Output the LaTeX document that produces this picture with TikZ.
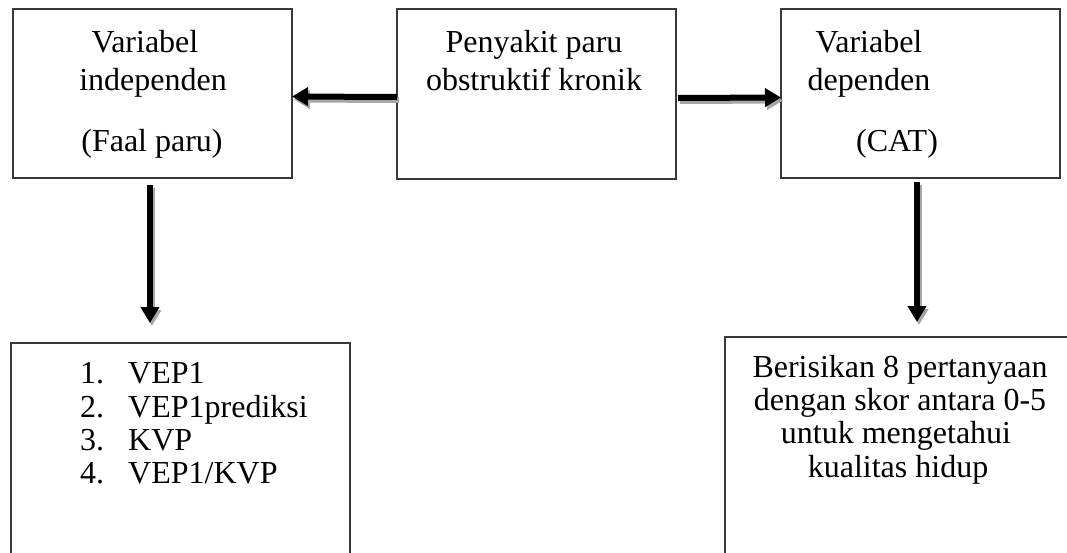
\documentclass[tikz,border=0pt]{standalone}
\usepackage{fontspec}
\setmainfont{Liberation Serif}
\usetikzlibrary{arrows.meta}
\begin{document}
\begin{tikzpicture}[x=1pt,y=-1pt,
  box/.style={draw=black!78, line width=1.4pt, rectangle, inner sep=0pt, outer sep=0pt},
  txt/.style={anchor=base, inner sep=0pt, font=\fontsize{32}{37}\selectfont},
  txtw/.style={anchor=base west, inner sep=0pt, font=\fontsize{32}{37}\selectfont},
  arr/.style={draw=black, line width=6pt, -{Triangle[length=16pt,width=18pt]}},
  shad/.style={draw=black!35, line width=6pt, -{Triangle[length=16pt,width=18pt]}, transform canvas={shift={(2pt,-3pt)}}}
]
\useasboundingbox (0,0) rectangle (1067,552);
\clip (0,0) rectangle (1067,552);
\fill[white] (0,0) rectangle (1067,552);

% boxes
\node[box, minimum width=279pt, minimum height=169pt] (A) at (152.5,93.5) {};
\node[box, minimum width=279pt, minimum height=170pt] (B) at (536.5,94) {};
\node[box, minimum width=279pt, minimum height=169pt] (C) at (920.5,93.5) {};
\node[box, minimum width=339pt, minimum height=257pt] (D) at (180.5,471.5) {};
\node[box, minimum width=365pt, minimum height=263pt] (E) at (907.5,468.5) {};

% texts
\node[txt] (a1) at (145,52) {Variabel};
\node[txt] (a2) at (153,90) {independen};
\node[txt] (a3) at (152,151) {(Faal paru)};
\node[txt] (b1) at (534,52) {Penyakit paru};
\node[txt] (b2) at (534,90) {obstruktif kronik};
\node[txt] (c1) at (869,52) {Variabel};
\node[txt] (c2) at (869,90) {dependen};
\node[txt] (c3) at (897,151) {(CAT)};

\node[txtw] (n1) at (80,383) {1.};
\node[txtw] (n2) at (80,417) {2.};
\node[txtw] (n3) at (80,450) {3.};
\node[txtw] (n4) at (80,483) {4.};
\node[txtw] (i1) at (128,383) {VEP1};
\node[txtw] (i2) at (128,417) {VEP1prediksi};
\node[txtw] (i3) at (128,450) {KVP};
\node[txtw] (i4) at (128,483) {VEP1/KVP};

\node[txt] (e1) at (900,377) {Berisikan 8 pertanyaan};
\node[txt] (e2) at (900,410) {dengan skor antara 0-5};
\node[txt] (e3) at (896,443) {untuk mengetahui};
\node[txt] (e4) at (898,477) {kualitas hidup};

% free arrow ends
\coordinate (da) at (150,323);
\coordinate (dc) at (917,322);

% arrows: shadows
\draw[shad] ([yshift=-3pt]B.west) -- ([yshift=-3pt]A.east);
\draw[shad] ([shift={(2pt,-4pt)}]B.east) -- ([yshift=-4pt]C.west);
\draw[shad] ([shift={(-2.5pt,-7pt)}]A.south) -- (da);
\draw[shad] ([shift={(-3.5pt,-4pt)}]C.south) -- (dc);
% arrows
\draw[arr] ([yshift=-3pt]B.west) -- ([yshift=-3pt]A.east);
\draw[arr] ([shift={(2pt,-4pt)}]B.east) -- ([yshift=-4pt]C.west);
\draw[arr] ([shift={(-2.5pt,-7pt)}]A.south) -- (da);
\draw[arr] ([shift={(-3.5pt,-4pt)}]C.south) -- (dc);
\end{tikzpicture}
\end{document}
